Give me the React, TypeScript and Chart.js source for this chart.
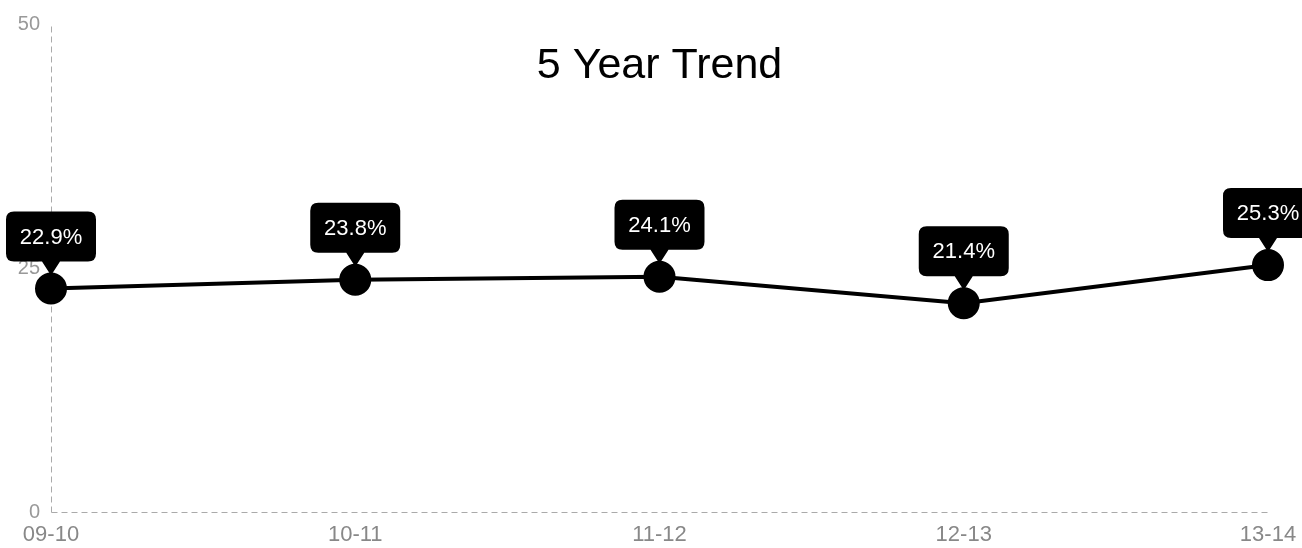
import React, { useEffect, useRef } from "react";
import { Chart, registerables } from "chart.js";

Chart.register(...registerables);

const categories = ["09-10", "10-11", "11-12", "12-13", "13-14"];
const values = [22.9, 23.8, 24.1, 21.4, 25.3];
const yTicks = [0, 25, 50];
const titleText = "5 Year Trend";

const FONT = "'Liberation Sans', Arial, sans-serif";

const axisPlugin = {
  id: "dashedAxes",
  beforeDatasetsDraw(chart: any) {
    const { ctx, chartArea } = chart;
    ctx.save();
    ctx.strokeStyle = "#aaa";
    ctx.lineWidth = 1;
    ctx.setLineDash([6, 4]);
    const x0 = Math.round(chartArea.left) + 0.5;
    const y0 = Math.round(chartArea.bottom) + 0.5;
    ctx.beginPath();
    ctx.moveTo(x0, y0);
    ctx.lineTo(x0, chartArea.top);
    ctx.stroke();
    ctx.beginPath();
    ctx.moveTo(x0, y0);
    ctx.lineTo(chartArea.right, y0);
    ctx.stroke();
    ctx.restore();
  },
};

const titlePlugin = {
  id: "insideTitle",
  afterDraw(chart: any) {
    const { ctx, chartArea } = chart;
    ctx.save();
    ctx.font = `43px ${FONT}`;
    ctx.fillStyle = "#000";
    ctx.textAlign = "center";
    ctx.textBaseline = "alphabetic";
    ctx.fillText(titleText, (chartArea.left + chartArea.right) / 2, 78);
    ctx.restore();
  },
};

const bubblePlugin = {
  id: "bubbleLabels",
  afterDatasetsDraw(chart: any) {
    const { ctx } = chart;
    const meta = chart.getDatasetMeta(0);
    ctx.save();
    ctx.font = `22px ${FONT}`;
    meta.data.forEach((pt: any, i: number) => {
      const x = pt.x;
      const y = pt.y;
      const text = values[i].toFixed(1) + "%";
      const w = 90;
      const h = 50;
      const bottom = y - 27;
      const top = bottom - h;
      const left = x - w / 2;
      const r = 8;
      ctx.fillStyle = "#000";
      ctx.beginPath();
      ctx.moveTo(left + r, top);
      ctx.lineTo(left + w - r, top);
      ctx.quadraticCurveTo(left + w, top, left + w, top + r);
      ctx.lineTo(left + w, bottom - r);
      ctx.quadraticCurveTo(left + w, bottom, left + w - r, bottom);
      ctx.lineTo(x + 9, bottom);
      ctx.lineTo(x, y - 13);
      ctx.lineTo(x - 9, bottom);
      ctx.lineTo(left + r, bottom);
      ctx.quadraticCurveTo(left, bottom, left, bottom - r);
      ctx.lineTo(left, top + r);
      ctx.quadraticCurveTo(left, top, left + r, top);
      ctx.closePath();
      ctx.fill();
      ctx.fillStyle = "#fff";
      ctx.textAlign = "center";
      ctx.textBaseline = "middle";
      ctx.fillText(text, x, top + h / 2 + 1);
    });
    ctx.restore();
  },
};

export default function App() {
  const ref = useRef<HTMLCanvasElement | null>(null);
  useEffect(() => {
    if (!ref.current) return;
    const chart = new Chart(ref.current, {
      type: "line",
      data: {
        labels: categories,
        datasets: [
          {
            data: values,
            borderColor: "#000",
            backgroundColor: "#000",
            borderWidth: 4,
            pointRadius: 14,
            pointHoverRadius: 14,
            pointBackgroundColor: "#000",
            pointBorderColor: "#000",
            tension: 0,
            clip: false as any,
          },
        ],
      },
      options: {
        animation: false,
        responsive: false,
        layout: { padding: { top: 24, right: 34, left: 0, bottom: 0 } },
        plugins: {
          legend: { display: false },
          title: { display: false },
          tooltip: { enabled: false },
        },
        scales: {
          x: {
            type: "category",
            offset: false,
            grid: { display: false },
            border: { display: false },
            ticks: {
              color: "#888",
              font: { family: FONT, size: 22 },
              padding: 2,
              maxRotation: 0,
              autoSkip: false,
            },
            afterFit(scale: any) {
              scale.height = 36;
            },
          },
          y: {
            min: 0,
            max: 50,
            afterBuildTicks(scale: any) {
              scale.ticks = yTicks.map((v) => ({ value: v }));
            },
            grid: { display: false },
            border: { display: false },
            ticks: {
              color: "#999",
              font: { family: FONT, size: 20 },
              padding: 3,
            },
            afterFit(scale: any) {
              scale.width = 51;
            },
          },
        },
      },
      plugins: [axisPlugin, titlePlugin, bubblePlugin],
    });
    return () => chart.destroy();
  }, []);
  return (
    <div style={{ position: "fixed", left: 0, top: 0, width: 1302, height: 548, background: "#fff" }}>
      <canvas ref={ref} width={1302} height={548} style={{ display: "block" }} />
    </div>
  );
}
